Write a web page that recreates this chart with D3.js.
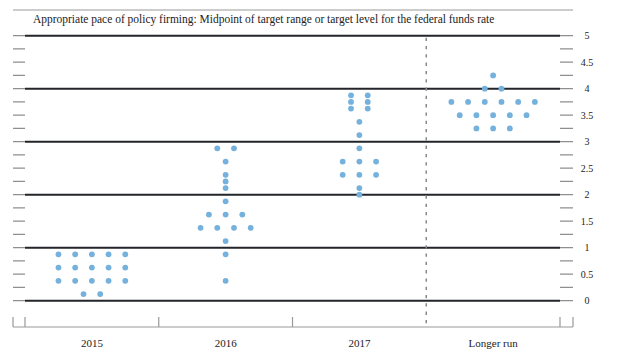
<!DOCTYPE html>
<html>
<head>
<meta charset="utf-8">
<script src="https://cdn.jsdelivr.net/npm/d3@7"></script>
<style>
  html, body { margin: 0; padding: 0; background: #fff; }
  svg { display: block; }
  text { font-family: "Liberation Serif", "DejaVu Serif", serif; fill: #222; }
</style>
</head>
<body>
<svg id="chart" width="617" height="360"></svg>
<script>
const title = "Appropriate pace of policy firming: Midpoint of target range or target level for the federal funds rate";
const categories = ["2015", "2016", "2017", "Longer run"];
const dots2015 = [0.125, 0.125, 0.375, 0.375, 0.375, 0.375, 0.375, 0.625, 0.625, 0.625, 0.625, 0.625, 0.875, 0.875, 0.875, 0.875, 0.875];
const dots2016 = [0.375, 0.875, 1.125, 1.375, 1.375, 1.375, 1.375, 1.625, 1.625, 1.625, 1.875, 2.125, 2.25, 2.375, 2.625, 2.875, 2.875];
const dots2017 = [2.0, 2.125, 2.375, 2.375, 2.375, 2.625, 2.625, 2.625, 2.875, 3.125, 3.375, 3.625, 3.625, 3.75, 3.75, 3.875, 3.875];
const dotsLongerRun = [3.25, 3.25, 3.25, 3.5, 3.5, 3.5, 3.5, 3.5, 3.75, 3.75, 3.75, 3.75, 3.75, 3.75, 4.0, 4.0, 4.25];
const yTickLabels = ["0", "0.5", "1", "1.5", "2", "2.5", "3", "3.5", "4", "4.5", "5"];
const yTickValues = [0, 0.5, 1, 1.5, 2, 2.5, 3, 3.5, 4, 4.5, 5];
const minorTickValues = [0, 0.25, 0.5, 0.75, 1, 1.25, 1.5, 1.75, 2, 2.25, 2.5, 2.75, 3, 3.25, 3.5, 3.75, 4, 4.25, 4.5, 4.75, 5];
const gridValues = [0, 1, 2, 3, 4, 5];

const seriesDots = [dots2015, dots2016, dots2017, dotsLongerRun];

const svg = d3.select("#chart");
const left = 25, right = 560, outerL = 13, outerR = 573;
const x = d3.scaleBand().domain(categories).range([left, right]).padding(0);
const y = d3.scaleLinear().domain([0, 5]).range([300.7, 35.7]);
const axisY = 327;

svg.append("rect").attr("width", 617).attr("height", 360).attr("fill", "#fff");

// top rule
svg.append("path").attr("d", `M${outerL},10H${outerR}`)
  .attr("stroke", "#9a9a9a").attr("stroke-width", 1.2).attr("fill", "none");

// title
const t = svg.append("text").attr("x", 33).attr("y", 22.5).attr("font-size", 11).text(title);
const w = t.node().getComputedTextLength();
t.attr("font-size", 11 * 462 / w);

// minor ticks every 0.25 on both sides
svg.append("g").selectAll("path").data(minorTickValues).join("path")
  .attr("d", d => `M${outerL},${y(d)}H${left}M${right},${y(d)}H${outerR}`)
  .attr("stroke", "#8f8f8f").attr("stroke-width", 1.3).attr("fill", "none");

// integer rules
svg.append("g").selectAll("path").data(gridValues).join("path")
  .attr("d", d => `M${left},${y(d)}H${right}`)
  .attr("stroke", "#23252a").attr("stroke-width", 2).attr("fill", "none");

// right labels
svg.append("g").selectAll("text").data(yTickValues).join("text")
  .attr("x", 587).attr("y", d => y(d) + 3.5).attr("text-anchor", "middle")
  .attr("font-size", 10).attr("fill", "#333").text((d, i) => yTickLabels[i]);

// dashed separator before Longer run
const sepX = x("Longer run");
svg.append("path").attr("d", `M${sepX},${y(5) + 2}V${axisY}`)
  .attr("stroke", "#888").attr("stroke-width", 1.5).attr("stroke-dasharray", "3.3,5").attr("fill", "none");

// bottom axis
const tickXs = [outerL, left, x("2016"), x("2017"), right, outerR];
svg.append("path").attr("d", `M${outerL},${axisY}H${outerR}` + tickXs.map(v => `M${v},317V${axisY}`).join(""))
  .attr("stroke", "#999").attr("stroke-width", 1.2).attr("fill", "none");

// category labels
svg.append("g").selectAll("text").data(categories).join("text")
  .attr("x", d => x(d) + x.bandwidth() / 2).attr("y", 346.5)
  .attr("text-anchor", "middle").attr("font-size", 11).text(d => d);

// dots
const spacing = 16.7;
categories.forEach((cat, ci) => {
  const groups = d3.group(seriesDots[ci], v => v);
  const pts = [];
  groups.forEach((vals, v) => {
    const n = vals.length;
    vals.forEach((_, i) => pts.push({ v, off: (i - (n - 1) / 2) * spacing }));
  });
  const cx = x(cat) + x.bandwidth() / 2;
  svg.append("g").selectAll("circle").data(pts).join("circle")
    .attr("cx", d => cx + d.off).attr("cy", d => y(d.v)).attr("r", 2.9)
    .attr("fill", "#74b1dc");
});
</script>
</body>
</html>
